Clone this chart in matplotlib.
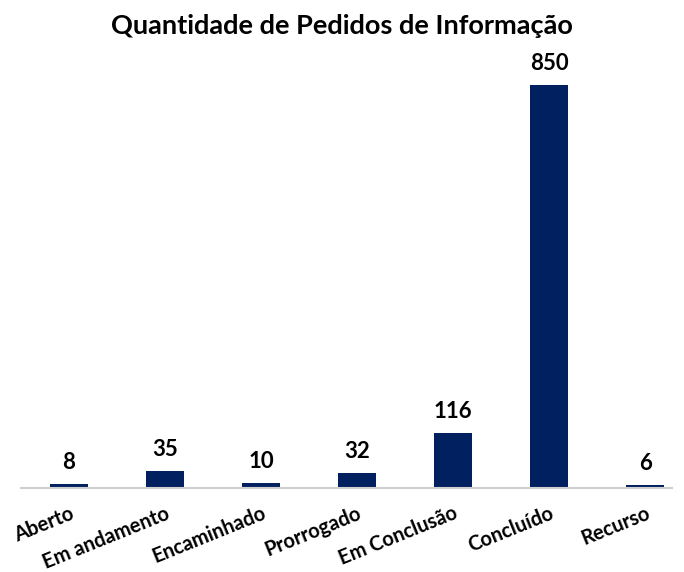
import matplotlib
matplotlib.use("Agg")
import matplotlib.pyplot as plt

# data
categorias = ["Aberto", "Em andamento", "Encaminhado", "Prorrogado",
              "Em Conclusão", "Concluído", "Recurso"]
quantidades = [8, 35, 10, 32, 116, 850, 6]

plt.rcParams["font.family"] = ["Lato", "DejaVu Sans"]

fig = plt.figure(figsize=(6.84, 5.72), dpi=100)
ax = fig.add_axes([21 / 684, 84 / 572, 651 / 684, (488 - 61) / 572])

x = range(len(categorias))
bars = ax.bar(x, quantidades, width=0.4, color="#002060")
ax.set_xlim(-0.5, 6.28)
ax.set_ylim(0, 900)

for rect, v in zip(bars, quantidades):
    ax.annotate(str(v), (rect.get_x() + rect.get_width() / 2, v),
                xytext=(0, 8), textcoords="offset points",
                ha="center", va="bottom", fontsize=16, fontweight="bold")

ax.set_xticks(list(x))
ax.set_xticklabels(categorias, rotation=22, ha="right", rotation_mode="anchor",
                   fontsize=14.5, fontweight="bold")
ax.tick_params(axis="x", length=0, pad=11)
ax.set_yticks([])
for side in ["top", "left", "right"]:
    ax.spines[side].set_visible(False)
ax.spines["bottom"].set_color("#d0d0d0")
ax.spines["bottom"].set_linewidth(1.5)

fig.suptitle("Quantidade de Pedidos de Informação", x=0.5, y=0.975,
             fontsize=19.5, fontweight="bold")

fig.savefig("out.png", dpi=100)
